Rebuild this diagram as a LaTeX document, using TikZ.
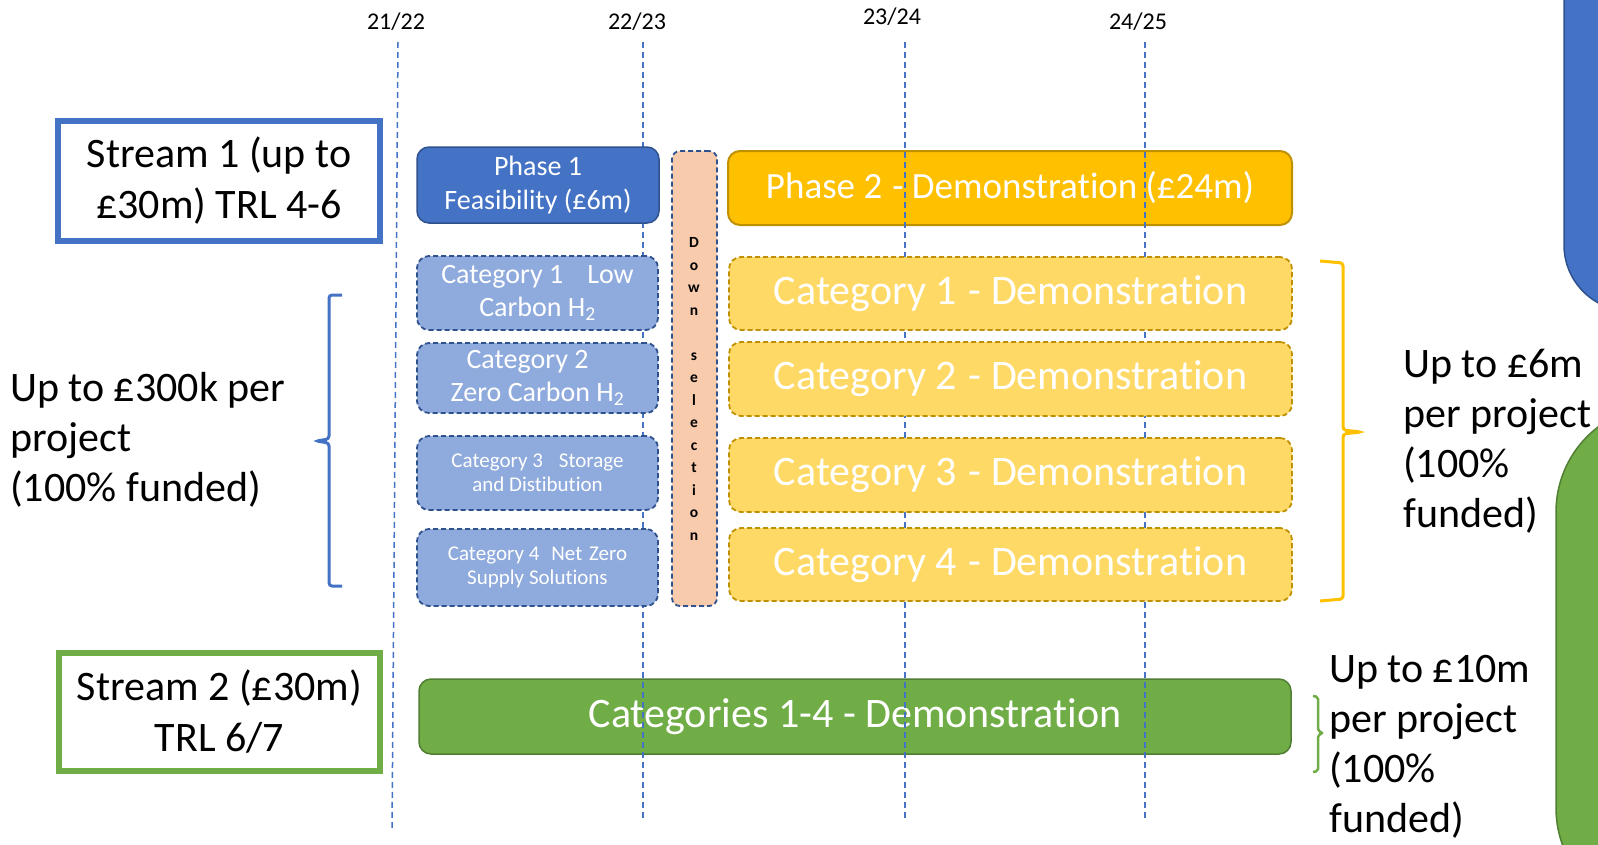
\documentclass[tikz,border=0pt]{standalone}
\usepackage{fontspec}
\setmainfont{Carlito}[Ligatures={NoCommon}]
\newcommand\tsep{\kern0pt}
\definecolor{ablue}{HTML}{4472C4}
\definecolor{dblue}{HTML}{2F528F}
\definecolor{lblue}{HTML}{8FAADC}
\definecolor{peach}{HTML}{F8CBAD}
\definecolor{ayellow}{HTML}{FFC000}
\definecolor{lyellow}{HTML}{FFD966}
\definecolor{dyellow}{HTML}{BF9000}
\definecolor{agreen}{HTML}{70AD47}
\definecolor{dgreen}{HTML}{507E32}
\tikzset{
  streambox/.style={draw, line width=6, fill=white, align=center, inner sep=0,
    font=\fontsize{42}{51}\selectfont},
  phaseone/.style={draw=dblue, fill=ablue, line width=1.5, rounded corners=12,
    text=white, align=center, inner sep=0, font=\fontsize{28}{34}\selectfont},
  catbox/.style={draw=dblue, fill=lblue, line width=1.8, dash pattern=on 5 off 3, rounded corners=12,
    text=white, align=center, inner sep=0},
  downbox/.style={draw=dblue, fill=peach, line width=1.8, dash pattern=on 5 off 3, rounded corners=8,
    minimum width=45, minimum height=455, inner sep=0},
  phasetwo/.style={draw=dyellow, fill=ayellow, line width=2, rounded corners=12,
    text=white, inner sep=0, font=\fontsize{37}{44}\selectfont},
  ycat/.style={draw=dyellow, fill=lyellow, line width=1.8, dash pattern=on 5 off 3, rounded corners=12,
    text=white, inner sep=0, minimum width=563, font=\fontsize{42}{50}\selectfont},
  greenbar/.style={draw=dgreen, fill=agreen, line width=1.5, rounded corners=12,
    text=white, inner sep=0, font=\fontsize{42}{50}\selectfont},
  yearline/.style={draw=ablue, line width=1.5, dash pattern=on 6 off 4},
  yearlabel/.style={inner sep=0, font=\fontsize{24}{28}\selectfont},
  bigtext/.style={anchor=west, align=left, inner sep=0, font=\fontsize{42}{50}\selectfont},
  brace/.style={line width=3, rounded corners=3},
}
\begin{document}
\begin{tikzpicture}[x=1pt, y=-1pt]
\useasboundingbox (0,0) rectangle (1598,844);
\begin{scope}
\clip (0,0) rectangle (1598,844);
\draw[fill=ablue, draw=dblue, line width=1.5, rounded corners=66] (1564,-120) rectangle (1720,311);
\draw[fill=agreen, draw=dgreen, line width=1.5, rounded corners=107] (1556,405) rectangle (1800,915);
\end{scope}

% stream boxes
\node[streambox, draw=ablue, minimum width=322, minimum height=120] (s1) at (219,181)
  {Stream 1 (up to\\£30m) TRL 4-6};
\node[streambox, draw=agreen, minimum width=321, minimum height=118] (s2) at (219.5,712)
  {Stream 2 (£30m)\\TRL 6/7};

% boxes under the year lines
\node[phasetwo, minimum width=564, minimum height=74] (p2) at (1010,188)
  {Phase 2\hspace{10pt}- Demonstrat\tsep ion (£24m)};
\node[greenbar, minimum width=872, minimum height=75] (g) at (855,716.5)
  {Categories 1-4 - Demonstrat\tsep ion};

% year lines
\coordinate (t1) at (398,42);  \coordinate (b1) at (392,830);
\coordinate (t2) at (643,42);  \coordinate (b2) at (643,820);
\coordinate (t3) at (905,42);  \coordinate (b3) at (905,820);
\coordinate (t4) at (1145,42); \coordinate (b4) at (1145,820);
\draw[yearline] (t1) -- (b1);
\draw[yearline] (t2) -- (b2);
\draw[yearline] (t3) -- (b3);
\draw[yearline] (t4) -- (b4);
\node[yearlabel] (l1) at (396,22) {21/22};
\node[yearlabel] (l2) at (637,22) {22/23};
\node[yearlabel] (l3) at (892,17) {23/24};
\node[yearlabel] (l4) at (1138,22) {24/25};

% phase 1 and categories
\node[phaseone, minimum width=242, minimum height=76] (p1) at (538,185)
  {Phase 1\\Feasibility (£6m)};
\node[catbox, minimum width=241, minimum height=74, font=\fontsize{28}{33}\selectfont] (c1) at (537.5,293)
  {Category 1\hspace{24pt}Low\\Carbon H\textsubscript{2}};
\node[catbox, minimum width=241, minimum height=70, font=\fontsize{28}{33}\selectfont] (c2) at (537.5,378)
  {Category 2\hspace{20pt}\mbox{}\\Zero Carbon H\textsubscript{2}};
\node[catbox, minimum width=241, minimum height=74, font=\fontsize{21}{24}\selectfont] (c3) at (537.5,473)
  {Category 3\hspace{16pt}Storage\\and Dist\tsep ibut\tsep ion};
\node[catbox, minimum width=241, minimum height=77, font=\fontsize{21}{24}\selectfont] (c4) at (537.5,567.5)
  {Category 4\hspace{12pt}Net\hspace{2pt} Zero\\Supply Solut\tsep ions};

\node[downbox] (d) at (694.5,378.5) {};
\node[align=center, inner sep=0, font=\fontsize{15.5}{22.5}\selectfont\bfseries] (dt) at (694,389)
  {D\\o\\w\\n\\\mbox{}\\s\\e\\l\\e\\c\\t\\i\\o\\n};

% yellow category demonstrations
\node[ycat, minimum height=73] (y1) at (1010.5,293.5) {Category 1\hspace{12pt}- Demonstrat\tsep ion};
\node[ycat, minimum height=74] (y2) at (1010.5,379) {Category 2\hspace{12pt}- Demonstrat\tsep ion};
\node[ycat, minimum height=74] (y3) at (1010.5,475) {Category 3\hspace{12pt}- Demonstrat\tsep ion};
\node[ycat, minimum height=73] (y4) at (1010.5,564.5) {Category 4\hspace{12pt}- Demonstrat\tsep ion};

% braces
\draw[brace, ablue] (342,295) -- (329,295) -- (329,439) -- (316,441) -- (329,443) -- (329,586) -- (342,586);
\draw[brace, ayellow] (1320,261) -- (1343,263) -- (1343,430) -- (1361,432) -- (1343,434) -- (1343,599) -- (1320,601);
\draw[brace, line width=2.5, rounded corners=2, agreen] (1313,696) -- (1318,697) -- (1318,731) -- (1323,733) -- (1318,735) -- (1318,771) -- (1313,772);

% texts
\node[bigtext] (lt) at (10,440) {Up to £300k per\\project\\(100\% funded)};
\node[bigtext] (rt) at (1403,441) {Up to £6m\\per project\\(100\%\\funded)};
\node[bigtext] (gt) at (1329,747) {Up to £10m\\per project\\(100\%\\funded)};
\end{tikzpicture}
\end{document}
